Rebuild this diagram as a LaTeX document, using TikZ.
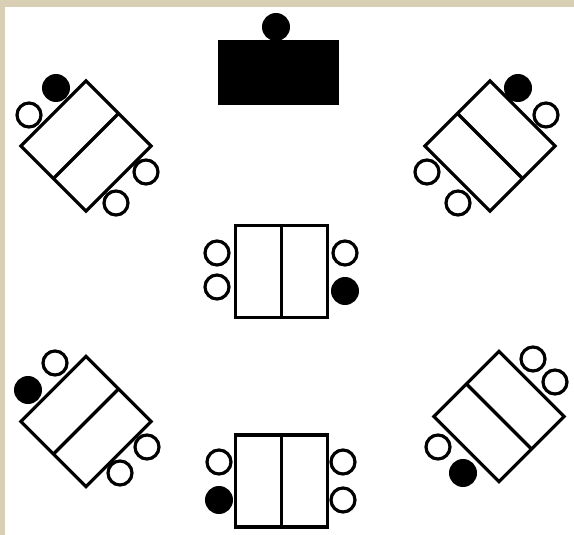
\documentclass[tikz,border=0pt]{standalone}
\usepackage{tikz}
\definecolor{wall}{HTML}{D9CFB4}
\tikzset{
  desk/.style={draw, line width=3.2pt, minimum size=92pt, inner sep=0pt, outer sep=0pt, fill=white},
  chair/.style={draw, circle, line width=3.2pt, minimum size=24pt, inner sep=0pt, outer sep=0pt, fill=white},
  pupil/.style={circle, fill=black, minimum size=28pt, inner sep=0pt, outer sep=0pt},
  split/.style={line width=3.2pt}}
\begin{document}
\begin{tikzpicture}[x=1pt, y=-1pt]
\useasboundingbox (0,0) rectangle (574,535);
\fill[wall] (0,0) rectangle (574,535);
\fill[white] (5,7) rectangle (574,535);
% front
\node[fill=black, minimum width=121pt, minimum height=65pt, inner sep=0pt] (front) at (278.5,72.5) {};
\node[pupil] (teacher) at (276,27) {};
% upper left
\node[desk, rotate=45] (ul) at (86,146) {};
\draw[split] (ul.east) -- (ul.west);
\node[pupil] (ula) at (56,88) {};
\node[chair] (ulb) at (29,115) {};
\node[chair] (ulc) at (146,172) {};
\node[chair] (uld) at (116,203) {};
% upper right
\node[desk, rotate=45] (ur) at (490,146) {};
\draw[split] (ur.north) -- (ur.south);
\node[pupil] (ura) at (518,88) {};
\node[chair] (urb) at (546,115) {};
\node[chair] (urc) at (427,172) {};
\node[chair] (urd) at (458,203) {};
% middle
\node[desk] (mid) at (281.5,271.5) {};
\draw[split] (mid.north) -- (mid.south);
\node[chair] (mida) at (217,253) {};
\node[chair] (midb) at (217,287) {};
\node[chair] (midc) at (345,253) {};
\node[pupil] (midd) at (345,291) {};
% lower left
\node[desk, rotate=45] (ll) at (86,421.5) {};
\draw[split] (ll.east) -- (ll.west);
\node[pupil] (lla) at (28,390) {};
\node[chair] (llb) at (55,363) {};
\node[chair] (llc) at (147,447) {};
\node[chair] (lld) at (120,473) {};
% lower right
\node[desk, rotate=45] (lr) at (499,416.5) {};
\draw[split] (lr.north) -- (lr.south);
\node[chair] (lra) at (533,359) {};
\node[chair] (lrb) at (555,382) {};
\node[chair] (lrc) at (438,447) {};
\node[pupil] (lrd) at (463,473) {};
% back
\node[desk] (back) at (281.5,481) {};
\draw[split] (back.north) -- (back.south);
\node[chair] (backa) at (219,462) {};
\node[pupil] (backb) at (219,500) {};
\node[chair] (backc) at (343,462) {};
\node[chair] (backd) at (343,500) {};
\end{tikzpicture}
\end{document}
